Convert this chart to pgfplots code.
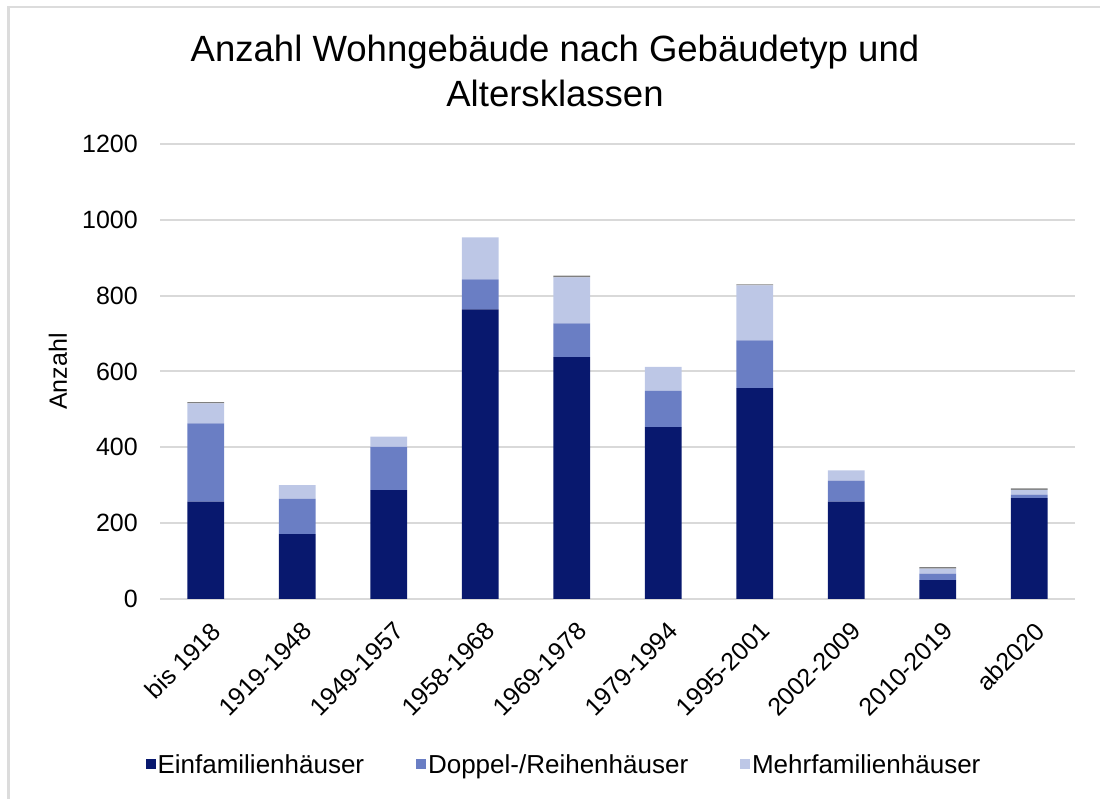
\documentclass[border=0pt]{standalone}
\usepackage{pgfplots}
\pgfplotsset{compat=1.18}
\usepackage{fontspec}
\setmainfont{Liberation Sans}
\definecolor{cEin}{HTML}{08186E}
\definecolor{cDop}{HTML}{6A7EC4}
\definecolor{cMehr}{HTML}{BDC7E6}
\definecolor{cSon}{HTML}{7F7F7F}
\definecolor{gridgray}{HTML}{D9D9D9}
\definecolor{framegray}{HTML}{DCDCDC}
\begin{document}
\begin{tikzpicture}
\useasboundingbox (0,0) rectangle (825pt,599.25pt);
\draw[framegray, line width=1.8pt] (6.5pt,0pt) -- (6.5pt,594pt) -- (825pt,594pt);
\begin{axis}[
  at={(120pt,150pt)}, anchor=south west,
  scale only axis, width=686.25pt, height=341.25pt,
  ybar stacked, bar width=27.4pt,
  xmin=-0.5, xmax=9.5, ymin=0, ymax=1200,
  xtick={0,...,9},
  xticklabels={bis 1918,1919-1948,1949-1957,1958-1968,1969-1978,1979-1994,1995-2001,2002-2009,2010-2019,ab2020},
  ytick={0,200,...,1200},
  ymajorgrids, xmajorgrids=false,
  grid style={draw=gridgray, line width=1.5pt},
  axis line style={draw=none},
  major tick length=0pt, tick style={draw=none},
  /pgf/number format/assume math mode=true,
  /pgf/number format/1000 sep={},
  tick label style={font=\fontsize{18.75}{22}\selectfont, text=black},
  yticklabel style={anchor=east, inner sep=0pt, xshift=-16.5pt},
  xticklabel style={inner sep=0pt, xshift=3pt, yshift=-16pt, rotate=45, anchor=north east},
  ylabel={Anzahl},
  every axis y label/.style={at={(axis description cs:-0.1115,0.5)}, rotate=90, anchor=center, font=\fontsize{18.75}{22}\selectfont},
  legend columns=3,
  legend style={at={(axis description cs:0.4415,-0.365)}, anchor=center, draw=none, fill=none,
    font=\fontsize{19.5}{23}\selectfont, nodes={inner sep=1.2pt},
    /tikz/every even column/.append style={column sep=38pt}},
  legend image code/.code={\fill[#1,draw=none] (0pt,-3.2pt) rectangle (7.5pt,4.3pt);},
]
\addplot[fill=cEin, draw=none] coordinates {(0,257) (1,171) (2,287) (3,764) (4,638) (5,453) (6,556) (7,257) (8,50) (9,266)};
\addplot[fill=cDop, draw=none] coordinates {(0,206) (1,93) (2,114) (3,79) (4,89) (5,96) (6,126) (7,55) (8,17) (9,9)};
\addplot[fill=cMehr, draw=none] coordinates {(0,53) (1,36) (2,27) (3,111) (4,121) (5,63) (6,145) (7,27) (8,13) (9,13)};
\addplot[fill=cSon, draw=none, forget plot] coordinates {(0,3) (1,0) (2,0) (3,0) (4,5) (5,0) (6,3) (7,0) (8,4) (9,4)};
\legend{Einfamilienhäuser, Doppel-/Reihenhäuser, Mehrfamilienhäuser}
\end{axis}
\node[anchor=north, align=center, inner sep=0pt, font=\fontsize{27.4}{33.75}\selectfont] at (416.25pt,573pt) {Anzahl Wohngebäude nach Gebäudetyp und\\Altersklassen};
\end{tikzpicture}
\end{document}
